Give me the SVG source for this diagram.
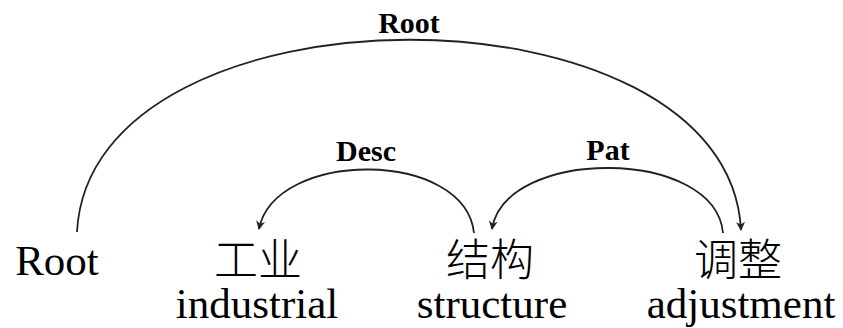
<svg xmlns="http://www.w3.org/2000/svg" width="843" height="328" viewBox="0 0 843 328">
  <style>
    .arc { fill: none; stroke: #222; stroke-width: 1.8; marker-end: url(#head); }
    .lbl { font-family: "Liberation Serif", "Times New Roman", serif; font-weight: bold; font-size: 30px; fill: #000; text-anchor: middle; }
    .word { font-family: "Liberation Serif", "Times New Roman", serif; font-size: 43px; fill: #000; text-anchor: middle; }
    .zh { font-family: "Noto Sans CJK SC", sans-serif; font-weight: 300; font-size: 44px; fill: #000; text-anchor: middle; }
  </style>
  <defs>
    <marker id="head" viewBox="0 0 10 10" refX="9" refY="5" markerWidth="9" markerHeight="9" markerUnits="userSpaceOnUse" orient="auto">
      <path d="M0,0 L10,5 L0,10 L3,5 Z" fill="#222"/>
    </marker>
  </defs>

  <g id="connectors">
    <path class="arc" d="M77,232 C90,-24 728,-24 741,230"/>
    <path class="arc" d="M474,233 C465,149 275,149 259,229"/>
    <path class="arc" d="M723,233 C715,147 505,147 492,229"/>
    <text class="lbl" x="409" y="33">Root</text>
    <text class="lbl" x="366" y="161">Desc</text>
    <text class="lbl" x="608" y="160">Pat</text>
  </g>

  <g id="node-root">
    <text class="word" x="57" y="275">Root</text>
  </g>
  <g id="node-gongye">
    <text class="zh" x="258" y="276">工业</text>
    <text class="word" x="257" y="318">industrial</text>
  </g>
  <g id="node-jiegou">
    <text class="zh" x="490" y="276">结构</text>
    <text class="word" x="492" y="318">structure</text>
  </g>
  <g id="node-tiaozheng">
    <text class="zh" x="738" y="276">调整</text>
    <text class="word" x="741" y="318">adjustment</text>
  </g>
</svg>
